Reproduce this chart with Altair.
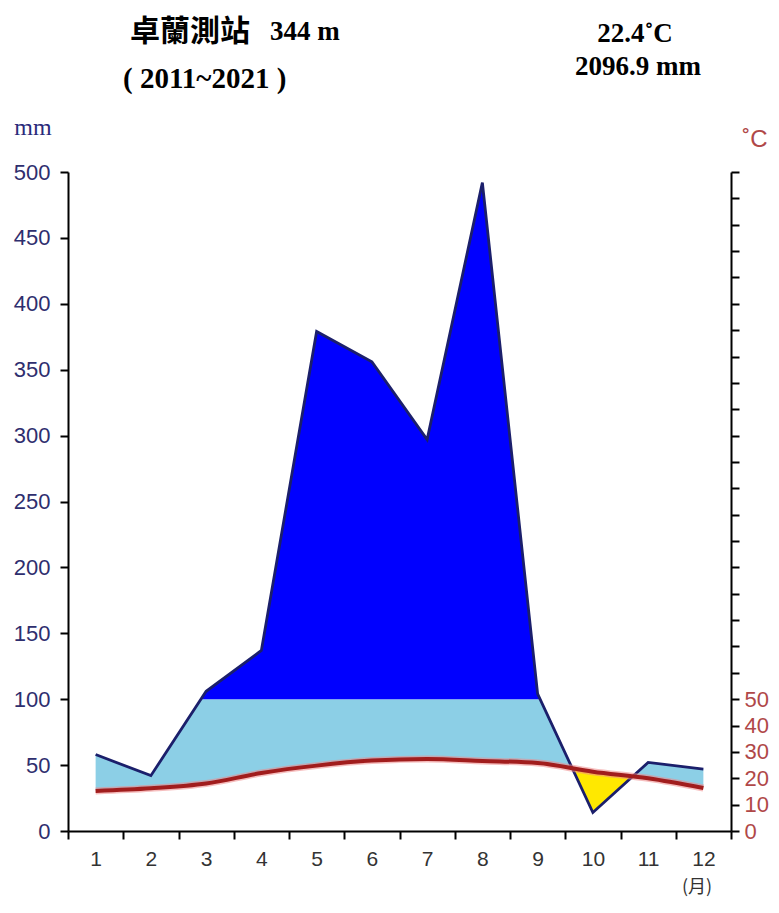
import altair as alt
import pandas as pd

# ---------------- data ----------------
months = [1, 2, 3, 4, 5, 6, 7, 8, 9, 10, 11, 12]
precip_mm = [58, 42, 106, 137, 379, 356, 297, 492, 104, 14, 52, 47]
temp_c = [15.2, 16.2, 18.0, 22.0, 24.8, 26.7, 27.3, 26.6, 25.8, 22.5, 20.0, 16.3]
mm_ticks = [0, 50, 100, 150, 200, 250, 300, 350, 400, 450, 500]
c_ticks = list(range(0, 251, 10))
station_name = "卓蘭測站"
station_elev = "344 m"
period_text = "( 2011~2021 )"
mean_temp_text = "22.4˚C"
annual_precip_text = "2096.9 mm"
left_unit = "mm"
right_unit = "˚C"
month_unit = "(月)"

W, H = 663, 659
HALF_BAND = W / 12 / 2

T2 = [2 * t for t in temp_c]  # temperature on the mm scale (10 C = 20 mm)


def cross(i, a, b):
    d0 = a[i] - b[i]
    d1 = a[i + 1] - b[i + 1]
    t = d0 / (d0 - d1)
    return months[i] + t * (months[i + 1] - months[i]), a[i] + t * (a[i + 1] - a[i]), t


# precipitation capped at 100 mm (with the 100 mm crossings)
cap_rows = []
hundred = [100] * 12
for i in range(12):
    cap_rows.append((months[i], precip_mm[i]))
    if i < 11 and (precip_mm[i] - 100) * (precip_mm[i + 1] - 100) < 0:
        xc, yc, _ = cross(i, precip_mm, hundred)
        cap_rows.append((xc, 100.0))
df_cap = pd.DataFrame(cap_rows, columns=["x", "p"])
df_cap["low"] = df_cap["p"].clip(upper=100)
df_cap["high"] = df_cap["p"].clip(lower=100)

# segments split where precipitation crosses the temperature curve
segs = []
cur = [(months[0], precip_mm[0], T2[0])]
for i in range(11):
    if (precip_mm[i] - T2[i]) * (precip_mm[i + 1] - T2[i + 1]) < 0:
        xc, pc, t = cross(i, precip_mm, T2)
        cur.append((xc, pc, pc))
        segs.append(cur)
        cur = [(xc, pc, pc)]
    cur.append((months[i + 1], precip_mm[i + 1], T2[i + 1]))
segs.append(cur)
wet_rows, dry_rows = [], []
for k, s in enumerate(segs):
    dry = sum(p - t for _, p, t in s) < 0
    for x, p, t in s:
        (dry_rows if dry else wet_rows).append((k, x, p, t))
df_wet = pd.DataFrame(wet_rows, columns=["seg", "x", "p", "t2"])
df_dry = pd.DataFrame(dry_rows, columns=["seg", "x", "p", "t2"])

df_m = pd.DataFrame({"x": months, "p": precip_mm, "t": temp_c, "t2": T2})

# ---------------- encodings ----------------
x_axis = alt.Axis(
    values=[m - 0.5 for m in months] + [12.5],
    labelExpr="datum.value < 12 ? toString(datum.value + 0.5) : ''",
    labelOffset=HALF_BAND,
    labelFlush=False,
    labelOverlap=False,
    labelFont="Liberation Sans",
    labelFontSize=21,
    labelColor="#333333",
    labelPadding=9,
    tickSize=8,
    tickWidth=2,
    tickColor="black",
    domainColor="black",
    domainWidth=2,
    grid=False,
    title=None,
    zindex=1,
)
x_scale = alt.Scale(domain=[0.5, 12.5], nice=False, zero=False)


def X():
    return alt.X("x:Q", scale=x_scale, axis=x_axis)


mm_scale = alt.Scale(domain=[0, 500], nice=False, zero=True)
mm_axis = alt.Axis(
    orient="left",
    values=mm_ticks,
    labelFont="Liberation Sans",
    labelFontSize=22,
    labelColor="#2e2e6e",
    labelPadding=10,
    tickSize=8,
    tickWidth=2,
    tickColor="black",
    domainColor="black",
    domainWidth=2,
    grid=False,
    title=None,
    zindex=1,
)

yellow = alt.Chart(df_m).mark_area(color="#ffe800", interpolate="monotone").encode(
    x=X(), y=alt.Y("t2:Q", scale=mm_scale, axis=mm_axis, stack=None)
)
light = alt.Chart(df_cap).mark_area(color="#8ccfe6").encode(
    x=X(), y=alt.Y("low:Q", scale=mm_scale, axis=mm_axis, stack=None)
)
dark = alt.Chart(df_cap).mark_area(color="#0000ff").encode(
    x=X(), y=alt.Y("high:Q", scale=mm_scale, axis=mm_axis, stack=None), y2=alt.datum(100)
)
white_wet = alt.Chart(df_wet).mark_area(
    color="white", stroke="white", strokeWidth=1.5, interpolate="monotone"
).encode(x=X(), y=alt.Y("t2:Q", scale=mm_scale, axis=mm_axis, stack=None), detail="seg:N")
white_dry = alt.Chart(df_dry).mark_area(color="white", stroke="white", strokeWidth=1.5).encode(
    x=X(), y=alt.Y("p:Q", scale=mm_scale, axis=mm_axis, stack=None), detail="seg:N"
)
p_line = alt.Chart(df_m).mark_line(color="#1b1f6b", strokeWidth=2.8).encode(
    x=X(), y=alt.Y("p:Q", scale=mm_scale, axis=mm_axis)
)


def label(text, x, y, size, color, font, weight="normal", align="left", baseline="alphabetic"):
    return alt.Chart(pd.DataFrame({"t": [text]})).mark_text(
        align=align, baseline=baseline, fontSize=size, color=color, font=font, fontWeight=weight
    ).encode(x=alt.value(x), y=alt.value(y), text="t:N")


texts = [
    label(station_name, 62, -140, 30, "black", "Noto Sans CJK TC", "bold", "left", "middle"),
    label(station_elev, 202, -132, 27, "black", "Liberation Serif", "bold"),
    label(period_text, 55, -84, 29, "black", "Liberation Serif", "bold"),
    label(mean_temp_text, 567, -130, 27, "black", "Liberation Serif", "bold", "center"),
    label(annual_precip_text, 570, -97, 27, "black", "Liberation Serif", "bold", "center"),
    label(left_unit, -35, -37, 24, "#2a2a7a", "Liberation Serif", "normal", "center"),
    label(right_unit, 687, -25, 24, "#b04848", "Liberation Sans", "normal", "center"),
    label(month_unit, 629, 716, 18, "#333333", "Noto Sans CJK TC", "normal", "center", "middle"),
]

mm_layer = alt.layer(yellow, light, dark, white_wet, white_dry, p_line, *texts)

c_scale = alt.Scale(domain=[0, 250], nice=False, zero=True)
c_axis = alt.Axis(
    orient="right",
    values=c_ticks,
    labelExpr="datum.value <= 50 ? datum.label : ''",
    labelFont="Liberation Sans",
    labelFontSize=22,
    labelColor="#b04848",
    labelPadding=5,
    labelOverlap=False,
    tickSize=8,
    tickWidth=2,
    tickColor="black",
    domainColor="black",
    domainWidth=2,
    grid=False,
    title=None,
    zindex=1,
)
halo = alt.Chart(df_m).mark_line(color="#ee8888", strokeWidth=7, opacity=0.55, interpolate="monotone").encode(
    x=X(), y=alt.Y("t:Q", scale=c_scale, axis=c_axis)
)
t_line = alt.Chart(df_m).mark_line(color="#a11d1d", strokeWidth=4, interpolate="monotone").encode(
    x=X(), y=alt.Y("t:Q", scale=c_scale, axis=c_axis)
)
temp_layer = alt.layer(halo, t_line)

chart = (
    alt.layer(mm_layer, temp_layer)
    .resolve_scale(y="independent")
    .properties(
        width=W,
        height=H,
        autosize=alt.AutoSizeParams(type="none"),
        padding={"left": 60, "top": 164, "right": 40, "bottom": 70},
        background="white",
    )
    .configure_view(strokeWidth=0)
)

chart.save("out.html", embed_options={"renderer": "svg", "actions": False})
